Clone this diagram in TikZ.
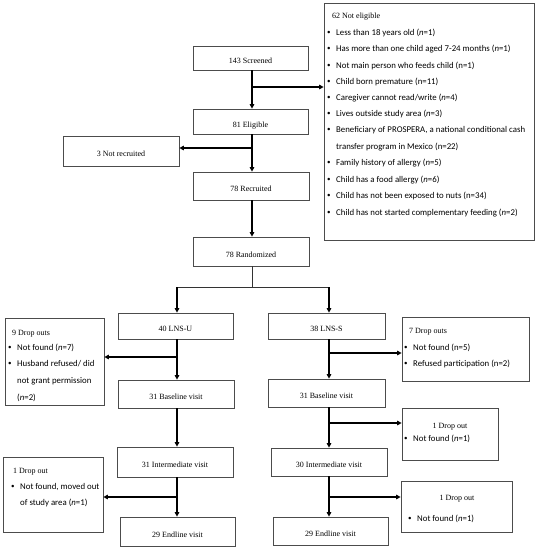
\documentclass[tikz,border=0pt]{standalone}
\usepackage{fontspec}
\setmainfont{Liberation Serif}
\newfontfamily\calfont{Carlito}
\usetikzlibrary{arrows.meta}
\newcommand{\nn}{\textit{n}}
\newcommand{\bu}{\makebox[9pt][l]{\raisebox{0.5pt}{\fontsize{7}{7}\selectfont\textbullet}}}
\begin{document}
\begin{tikzpicture}[x=1pt,y=-1pt,
  box/.style={draw=black!70, line width=0.7pt, inner sep=0pt},
  main/.style={box, font=\fontsize{8}{9}\selectfont, text height=11pt, text depth=0pt},
  ttl/.style={font=\fontsize{8}{9}\selectfont, inner sep=0pt, anchor=base west},
  ttlc/.style={font=\fontsize{8}{9}\selectfont, inner sep=0pt, anchor=base},
  bl/.style={font=\calfont\fontsize{8.8}{10}\selectfont, inner sep=0pt, anchor=base west},
  arr/.style={line width=1.1pt, -{Triangle[length=4.5pt,width=4.5pt]}},
  ln/.style={line width=0.6pt, black!80}]
\useasboundingbox (0,0) rectangle (539,550);

% main column
\node[main, minimum width=115pt, minimum height=24pt] (scr) at (250.5,58) {143 Screened};
\node[main, minimum width=115pt, minimum height=25pt] (elig) at (250.5,121.5) {81 Eligible};
\node[main, minimum width=116pt, minimum height=30pt] (notrec) at (121,151) {3 Not recruited};
\node[main, minimum width=116pt, minimum height=28pt] (recr) at (251,186) {78 Recruited};
\node[main, minimum width=116pt, minimum height=29pt] (rand) at (251,251.5) {78 Randomized};

% not eligible box
\node[box, minimum width=210pt, minimum height=237pt] (notel) at (429,121.5) {};
\node[ttl] (ne0) at (332,18) {62 Not eligible};
\node[bl] (ne1) at (327,35) {\bu Less than 18 years old (\nn=1)};
\node[bl] (ne2) at (327,51) {\bu Has more than one child aged 7-24 months (\nn=1)};
\node[bl] (ne3) at (327,68) {\bu Not main person who feeds child (n=1)};
\node[bl] (ne4) at (327,84) {\bu Child born premature (n=11)};
\node[bl] (ne5) at (327,100) {\bu Caregiver cannot read/write (\nn=4)};
\node[bl] (ne6) at (327,116) {\bu Lives outside study area (\nn=3)};
\node[bl] (ne7) at (327,132) {\bu\makebox[189pt][s]{Beneficiary of PROSPERA, a national conditional cash}};
\node[bl] (ne8) at (336,149) {transfer program in Mexico (n=22)};
\node[bl] (ne9) at (327,165) {\bu Family history of allergy (\nn=5)};
\node[bl] (ne10) at (327,182) {\bu Child has a food allergy (\nn=6)};
\node[bl] (ne11) at (327,198) {\bu Child has not been exposed to nuts (n=34)};
\node[bl] (ne12) at (327,215) {\bu Child has not started complementary feeding (\nn=2)};

% arms
\node[main, minimum width=115pt, minimum height=26pt] (lnsu) at (175.5,326) {40 LNS-U};
\node[main, minimum width=117pt, minimum height=26pt] (lnss) at (326.5,326) {38 LNS-S};
\node[main, minimum width=116pt, minimum height=28pt] (baseL) at (176,394) {31 Baseline visit};
\node[main, minimum width=117pt, minimum height=28pt] (baseR) at (326.5,393) {31 Baseline visit};
\node[main, minimum width=116pt, minimum height=30pt] (intL) at (175,462) {31 Intermediate visit};
\node[main, minimum width=116pt, minimum height=28pt] (intR) at (329,462) {30 Intermediate visit};
\node[main, minimum width=115pt, minimum height=29pt] (endL) at (177.5,531.5) {29 Endline visit};
\node[main, minimum width=115pt, minimum height=28pt] (endR) at (330.5,531) {29 Endline visit};

% drop out boxes
\node[box, minimum width=99pt, minimum height=87pt] (d9) at (54.5,361.5) {};
\node[ttl] (d9t) at (12,335) {9 Drop outs};
\node[bl] (d9a) at (8,350) {\bu Not found (\nn=7)};
\node[bl] (d9b) at (8,366) {\bu Husband refused/ did};
\node[bl] (d9c) at (17,383) {not grant permission};
\node[bl] (d9d) at (17,400) {(\nn=2)};

\node[box, minimum width=127pt, minimum height=64pt] (d7) at (465.5,349) {};
\node[ttl] (d7t) at (409,333) {7 Drop outs};
\node[bl] (d7a) at (404,350) {\bu Not found (n=5)};
\node[bl] (d7b) at (404,366) {\bu Refused participation (n=2)};

\node[box, minimum width=96pt, minimum height=52pt] (d1a) at (450,434.5) {};
\node[ttlc] (d1at) at (450,428) {1 Drop out};
\node[bl] (d1aa) at (404,441) {\bu Not found (\nn=1)};

\node[box, minimum width=100pt, minimum height=75pt] (d1L) at (53,494.5) {};
\node[ttl] (d1Lt) at (13,473) {1 Drop out};
\node[bl] (d1La) at (11,489) {\bu Not found, moved out};
\node[bl] (d1Lb) at (20,505) {of study area (\nn=1)};

\node[box, minimum width=111pt, minimum height=51pt] (d1b) at (456.5,506.5) {};
\node[ttlc] (d1bt) at (457,500) {1 Drop out};
\node[bl] (d1ba) at (408,521) {\bu Not found (\nn=1)};

% column coordinates
\coordinate (cM) at (252,0);
\coordinate (cL) at (177,0);
\coordinate (cR) at (329,0);
\coordinate (b1) at (252,87);
\coordinate (b2) at (252,148);
\coordinate (sp) at (252,287);
\coordinate (spL) at (177,287);
\coordinate (spR) at (329,287);
\coordinate (b3) at (177,357);
\coordinate (b4) at (329,353);
\coordinate (b5) at (329,423);
\coordinate (b6) at (177,497);
\coordinate (b7) at (329,497);

% connectors
\draw[arr] (scr.south -| cM) -- (elig.north -| cM);
\draw[arr] (b1) -- (b1 -| notel.west);
\draw[arr] (elig.south -| cM) -- (recr.north -| cM);
\draw[arr] (b2) -- (b2 -| notrec.east);
\draw[arr] (recr.south -| cM) -- (rand.north -| cM);
\draw[ln] (rand.south -| cM) -- (sp);
\draw[ln] (spL) -- (spR);
\draw[arr] (spL) -- (lnsu.north -| cL);
\draw[arr] (spR) -- (lnss.north -| cR);
\draw[arr] (lnsu.south -| cL) -- (baseL.north -| cL);
\draw[arr] (b3) -- (b3 -| d9.east);
\draw[arr] (lnss.south -| cR) -- (baseR.north -| cR);
\draw[arr] (b4) -- (b4 -| d7.west);
\draw[arr] (baseL.south -| cL) -- (intL.north -| cL);
\draw[arr] (baseR.south -| cR) -- (intR.north -| cR);
\draw[arr] (b5) -- (b5 -| d1a.west);
\draw[arr] (intL.south -| cL) -- (endL.north -| cL);
\draw[arr] (b6) -- (b6 -| d1L.east);
\draw[arr] (intR.south -| cR) -- (endR.north -| cR);
\draw[arr] (b7) -- (b7 -| d1b.west);
\end{tikzpicture}
\end{document}
